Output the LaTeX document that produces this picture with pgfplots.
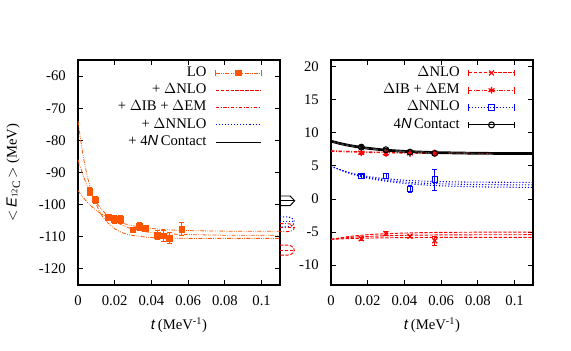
\documentclass[border=0pt]{standalone}
\usepackage{fontspec}
\setmainfont{Liberation Serif}
\setsansfont{Liberation Sans}
\usepackage{pgfplots}
\pgfplotsset{compat=1.18}

\definecolor{lo}{RGB}{255,85,0}
\definecolor{rd}{RGB}{255,0,0}
\definecolor{bl}{RGB}{0,0,255}

\tikzset{
  ddd/.style={dash pattern=on 3pt off 1pt on 0.6pt off 1pt on 0.6pt off 1pt},
  dsh/.style={dash pattern=on 2.5pt off 1.2pt},
  ddt/.style={dash pattern=on 2.5pt off 1.3pt on 0.6pt off 1.3pt},
  dtt/.style={dash pattern=on 0.8pt off 1.5pt},
  errleg/.style={},
  lineleg/.style={},
}

\pgfplotsset{
  errleg/.style={legend image code/.code={
      \draw[##1,mark=none] (0pt,0pt) -- (34pt,0pt);
      \draw[##1,mark=none,solid] (0pt,-2.5pt) -- (0pt,2.5pt) (34pt,-2.5pt) -- (34pt,2.5pt);
      \draw[##1,solid] plot[only marks] coordinates {(17pt,0pt)};
  }},
  lineleg/.style={legend image code/.code={
      \draw[##1] (0pt,0pt) -- (34pt,0pt);
  }},
  panel/.style={
    scale only axis, width=151.5pt, height=168.75pt,
    xmin=0, xmax=0.11,
    axis line style={line width=0.8pt},
    tick align=inside, tick pos=both,
    xticklabel pos=lower, yticklabel pos=left,
    major tick length=4pt,
    every tick/.style={black, line width=0.7pt},
    xtick={0,0.02,0.04,0.06,0.08,0.1},
    xticklabels={0,0.02,0.04,0.06,0.08,0.1},
    xticklabel style={inner sep=0pt, anchor=north, yshift=-8pt},
    yticklabel style={inner sep=0pt, anchor=east, xshift=-9pt},
    xlabel={\textsf{\textit{t}}\,(MeV\textsuperscript{-1})},
    xlabel style={at={(axis description cs:0.5,-0.18)}, anchor=center},
    legend cell align=right, legend plot pos=right,
    legend style={draw=none, fill=none, at={(1,1)}, anchor=north east,
      xshift=-13.5pt, yshift=-4pt, inner sep=0pt, row sep=2pt, column sep=6pt,
      nodes={inner sep=0.5pt, text height=7.5pt, text depth=2.5pt}},
    clip=false,
  },
  errb/.style={error bars/y dir=both, error bars/y explicit,
    error bars/error bar style={solid, line width=0.5pt},
    error bars/error mark options={rotate=90, mark size=1.8pt, solid, line width=0.5pt}},
}

\begin{document}
\fontsize{11}{13}\selectfont
\begin{tikzpicture}
\path[use as bounding box] (0,0) rectangle (428.25pt,262.5pt);

% ---------------- left panel ----------------
\begin{axis}[panel, at={(58.5pt,48.75pt)}, anchor=south west,
  ymin=-125, ymax=-55,
  ytick={-120,-110,-100,-90,-80,-70,-60},
  yticklabels={-120,-110,-100,-90,-80,-70,-60},
  ylabel={$<$\,\textsf{\textit{E}}{\fontsize{6.5}{7}\selectfont\raisebox{-0.2ex}{12}}{\fontsize{8.5}{9}\selectfont\raisebox{-0.7ex}{C}}\,$>$ (MeV)},
  ylabel style={at={(axis description cs:-0.32,0.5)}, anchor=center},
]
\addlegendimage{lo, ddd, line width=0.6pt, mark=square*, mark size=2.2pt, mark options={solid}, errleg}
\addlegendentry{LO}
\addlegendimage{rd, dsh, line width=0.7pt, lineleg}
\addlegendentry{+ $\Delta$NLO}
\addlegendimage{rd, ddt, line width=0.7pt, lineleg}
\addlegendentry{+ $\Delta$IB + $\Delta$EM}
\addlegendimage{bl, dtt, line width=0.8pt, lineleg}
\addlegendentry{+ $\Delta$NNLO}
\addlegendimage{black, solid, line width=1pt, lineleg}
\addlegendentry{+ 4\textsf{\textit{N}}\,Contact}

% LO fit curves
\addplot[lo, ddd, line width=0.6pt, smooth, forget plot] coordinates {
(0,-74.0)(0.0025,-83.8)(0.005,-91.0)(0.0075,-96.2)(0.01,-100.0)(0.0125,-102.9)
(0.015,-104.9)(0.02,-107.5)(0.025,-108.9)(0.03,-109.6)(0.04,-110.25)(0.05,-110.4)
(0.06,-110.5)(0.08,-110.5)(0.11,-110.5)};
\addplot[lo, ddd, line width=0.6pt, smooth, forget plot] coordinates {
(0,-86.0)(0.0025,-90.4)(0.005,-94.0)(0.0075,-96.9)(0.01,-99.3)(0.0125,-101.2)
(0.015,-102.8)(0.02,-105.1)(0.025,-106.6)(0.03,-107.6)(0.04,-108.7)(0.05,-109.1)
(0.06,-109.3)(0.08,-109.5)(0.11,-109.5)};
\addplot[lo, ddd, line width=0.6pt, smooth, forget plot] coordinates {
(0,-95.6)(0.0025,-97.55)(0.005,-99.2)(0.0075,-100.6)(0.01,-101.8)(0.0125,-102.8)
(0.015,-103.6)(0.02,-105.0)(0.025,-105.9)(0.03,-106.6)(0.04,-107.4)(0.05,-107.85)
(0.06,-108.07)(0.08,-108.24)(0.11,-108.3)};

% LO data
\addplot[lo, only marks, mark=square*, mark size=2.2pt, errb, forget plot]
 coordinates {
(0.0064,-95.9) +- (0,1.2)
(0.0096,-98.5) +- (0,1.2)
(0.0165,-104.0) +- (0,1.0)
(0.0198,-104.6) +- (0,1.3)
(0.0233,-104.5) +- (0,1.2)
(0.0298,-107.8) +- (0,0.8)
(0.0334,-106.7) +- (0,1.3)
(0.0365,-107.3) +- (0,1.0)
(0.0432,-109.4) +- (0,1.3)
(0.0465,-109.7) +- (0,1.7)
(0.0499,-110.4) +- (0,1.7)
(0.0565,-107.6) +- (0,2.0)};

% extrapolated values (beyond the axis)
\addplot[black, line width=0.7pt, forget plot] coordinates {
(0.11,-97.3)(0.1155,-97.3)(0.118,-98.8)(0.1155,-100.3)(0.11,-100.3)};
\addplot[black, line width=0.7pt, forget plot] coordinates {(0.11,-98.8)(0.118,-98.8)};
\addplot[bl, dtt, line width=0.8pt, forget plot] coordinates {
(0.11,-103.8)(0.114,-103.8)(0.1159,-104.01)(0.1173,-104.58)(0.1178,-105.35)
(0.1173,-106.13)(0.1159,-106.69)(0.114,-106.9)(0.11,-106.9)};
\addplot[bl, dtt, line width=0.8pt, forget plot] coordinates {(0.11,-105.35)(0.1178,-105.35)};
\addplot[rd, ddt, line width=0.7pt, forget plot] coordinates {
(0.11,-105.9)(0.114,-105.9)(0.1159,-106.07)(0.1173,-106.53)(0.1178,-107.15)
(0.1173,-107.78)(0.1159,-108.23)(0.114,-108.4)(0.11,-108.4)};
\addplot[rd, ddt, line width=0.7pt, forget plot] coordinates {(0.11,-107.15)(0.1178,-107.15)};
\addplot[rd, dsh, line width=0.7pt, forget plot] coordinates {
(0.11,-112.6)(0.114,-112.6)(0.1159,-112.81)(0.1173,-113.38)(0.1178,-114.15)
(0.1173,-114.93)(0.1159,-115.49)(0.114,-115.7)(0.11,-115.7)};
\addplot[rd, dsh, line width=0.7pt, forget plot] coordinates {(0.11,-114.15)(0.1178,-114.15)};
\end{axis}

% ---------------- right panel ----------------
\begin{axis}[panel, at={(248.25pt,48.75pt)}, anchor=south west,
  ymin=-13, ymax=21,
  ytick={-10,-5,0,5,10,15,20},
  yticklabels={-10,-5,0,5,10,15,20},
]
\addlegendimage{rd, dsh, line width=0.7pt, mark=x, mark size=2.6pt, mark options={solid, line width=0.9pt}, errleg}
\addlegendentry{$\Delta$NLO}
\addlegendimage{rd, ddt, line width=0.7pt, mark=asterisk, mark size=2.6pt, mark options={solid, line width=0.9pt}, errleg}
\addlegendentry{$\Delta$IB + $\Delta$EM}
\addlegendimage{bl, dtt, line width=0.8pt, mark=square, mark size=2pt, mark options={solid, line width=0.8pt}, errleg}
\addlegendentry{$\Delta$NNLO}
\addlegendimage{black, solid, line width=0.8pt, mark=o, mark size=2.2pt, mark options={solid, line width=0.8pt}, errleg}
\addlegendentry{4\textsf{\textit{N}}\,Contact}

% NNLO curves
\addplot[bl, dtt, line width=0.8pt, smooth, forget plot] coordinates {
(0,4.95)(0.01,3.99)(0.02,3.40)(0.03,3.05)(0.04,2.83)(0.05,2.70)(0.06,2.62)(0.08,2.54)(0.11,2.51)};
\addplot[bl, dtt, line width=0.8pt, smooth, forget plot] coordinates {
(0,4.95)(0.01,3.91)(0.02,3.25)(0.03,2.83)(0.04,2.56)(0.05,2.39)(0.06,2.29)(0.08,2.18)(0.11,2.12)};
\addplot[bl, dtt, line width=0.8pt, smooth, forget plot] coordinates {
(0,4.95)(0.01,3.88)(0.02,3.16)(0.03,2.68)(0.04,2.36)(0.05,2.14)(0.06,1.99)(0.08,1.83)(0.11,1.74)};
% NLO curves
\addplot[rd, dsh, line width=0.7pt, smooth, forget plot] coordinates {
(0,-6.1)(0.01,-5.67)(0.02,-5.40)(0.03,-5.25)(0.04,-5.15)(0.05,-5.09)(0.06,-5.05)(0.08,-5.02)(0.11,-5.00)};
\addplot[rd, dsh, line width=0.7pt, smooth, forget plot] coordinates {
(0,-6.1)(0.01,-5.82)(0.02,-5.66)(0.03,-5.56)(0.04,-5.49)(0.05,-5.46)(0.06,-5.43)(0.08,-5.41)(0.11,-5.40)};
\addplot[rd, dsh, line width=0.7pt, smooth, forget plot] coordinates {
(0,-6.1)(0.01,-5.98)(0.02,-5.91)(0.03,-5.87)(0.04,-5.84)(0.05,-5.82)(0.06,-5.81)(0.08,-5.81)(0.11,-5.80)};
% IB+EM curves
\addplot[rd, ddt, line width=0.7pt, smooth, forget plot] coordinates {
(0,7.30)(0.01,7.20)(0.02,7.12)(0.03,7.06)(0.04,7.02)(0.06,6.97)(0.08,6.94)(0.11,6.92)};
\addplot[rd, ddt, line width=0.7pt, smooth, forget plot] coordinates {
(0,7.20)(0.01,7.10)(0.02,7.02)(0.03,6.96)(0.04,6.92)(0.06,6.88)(0.08,6.86)(0.11,6.85)};
% Contact band
\addplot[black, line width=0.7pt, smooth, forget plot] coordinates {
(0,8.87)(0.005,8.51)(0.01,8.22)(0.015,7.99)(0.02,7.80)(0.03,7.51)(0.04,7.33)(0.05,7.21)(0.06,7.13)(0.08,7.04)(0.11,6.99)};
\addplot[black, line width=0.7pt, smooth, forget plot] coordinates {
(0,8.75)(0.005,8.39)(0.01,8.10)(0.015,7.87)(0.02,7.68)(0.03,7.39)(0.04,7.21)(0.05,7.09)(0.06,7.01)(0.08,6.92)(0.11,6.87)};
\addplot[black, line width=0.7pt, smooth, forget plot] coordinates {
(0,8.60)(0.005,8.24)(0.01,7.95)(0.015,7.72)(0.02,7.53)(0.03,7.24)(0.04,7.06)(0.05,6.94)(0.06,6.86)(0.08,6.77)(0.11,6.72)};

% data points
\addplot[rd, only marks, mark=x, mark size=2.6pt, mark options={line width=0.9pt}, errb, forget plot] coordinates {
(0.0165,-6.0) +- (0,0.25) (0.0299,-5.24) +- (0,0.3) (0.043,-5.64) +- (0,0.2) (0.0565,-6.3) +- (0,0.7)};
\addplot[rd, only marks, mark=asterisk, mark size=2.6pt, mark options={line width=0.9pt}, errb, forget plot] coordinates {
(0.0165,7.0) +- (0,0.25) (0.0299,6.9) +- (0,0.25) (0.043,6.88) +- (0,0.2) (0.0565,6.95) +- (0,0.25)};
\addplot[bl, only marks, mark=square, mark size=2pt, mark options={line width=0.8pt}, errb, forget plot] coordinates {
(0.0165,3.44) +- (0,0.3) (0.0299,3.5) +- (0,0.35) (0.043,1.5) +- (0,0.5) (0.0565,2.95) +- (0,1.6)};
\addplot[black, only marks, mark=o, mark size=2.2pt, mark options={line width=0.8pt}, errb, forget plot] coordinates {
(0.0165,7.83) +- (0,0.2) (0.0299,7.44) +- (0,0.2) (0.043,7.08) +- (0,0.2) (0.0565,6.9) +- (0,0.25)};
\end{axis}
\end{tikzpicture}
\end{document}
